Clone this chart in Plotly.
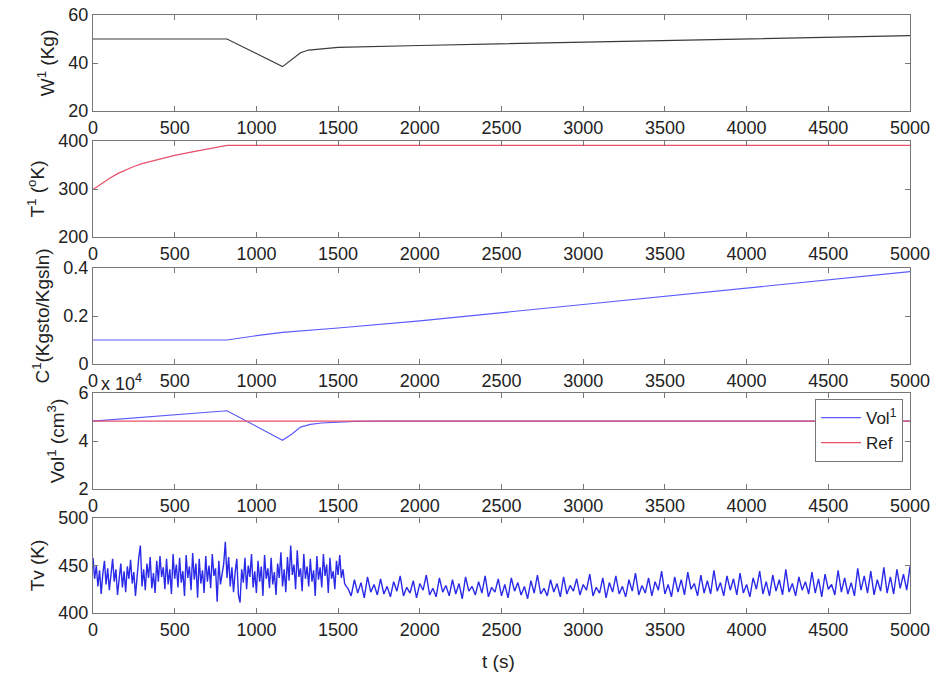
import numpy as np
import plotly.graph_objects as go
from plotly.subplots import make_subplots

# ---- data ----
w_t = [0, 820, 1160, 1220, 1270, 1320, 1400, 1500, 2000, 3000, 4000, 5000]
w_val = [50, 50, 38.5, 41.5, 44.3, 45.4, 46.0, 46.5, 47.3, 48.6, 50.0, 51.4]

temp_t = [0, 50, 100, 150, 200, 250, 300, 400, 500, 600, 700, 820, 5000]
temp_val = [299, 311, 322, 332, 340, 347, 353, 362, 370, 377, 384, 391, 391]

c_t = [0, 820, 1000, 1160, 1500, 2000, 3000, 4000, 5000]
c_val = [0.1, 0.1, 0.118, 0.132, 0.15, 0.18, 0.248, 0.316, 0.385]

vol_t = [0, 820, 1160, 1220, 1270, 1330, 1400, 1500, 1600, 1800, 5000]
vol_val = [48300, 52600, 40300, 43000, 45800, 46900, 47500, 48000, 48200, 48300, 48300]
ref_t = [0, 5000]
ref_val = [48300, 48300]

# valve temperature, 10 s samples up to 1550 s
tv_early = [
    458, 436, 450, 428, 445, 420, 441, 455, 430, 447,
    424, 438, 457, 433, 446, 419, 440, 452, 427, 444,
    422, 449, 436, 456, 431, 443, 418, 439, 458, 471,
    428, 446, 424, 452, 437, 459, 426, 442, 421, 455,
    433, 460, 438, 448, 425, 457, 430, 446, 420, 462,
    436, 451, 427, 458, 432, 444, 418, 461, 437, 449,
    424, 463, 435, 452, 416, 457, 431, 445, 421, 460,
    433, 450, 426, 462, 439, 447, 412, 455, 430, 441,
    452, 475, 437, 459, 428, 448, 422, 443, 457, 419,
    411, 446, 432, 458, 425, 450, 438, 462, 427, 444,
    421, 455, 433, 449, 418, 461, 436, 447, 426, 458,
    430, 443, 419, 452, 437, 464, 428, 446, 422, 459,
    434, 471, 440, 451, 425, 466, 438, 447, 423, 462,
    436, 449, 428, 457, 433, 445, 418, 460, 435, 448,
    427, 462, 439, 451, 421, 458, 436, 444, 425, 455,
    440, 461, 437, 446, 431, 428,
]
# valve temperature, 20 s samples from 1560 s to 5000 s
tv_late = [
    426, 418, 435, 421, 432, 416, 438, 422, 430, 419,
    436, 420, 428, 417, 433, 423, 439, 418, 427, 421,
    434, 416, 431, 424, 440, 419, 426, 417, 437, 422,
    429, 418, 435, 420, 431, 415, 438, 423, 428, 419,
    433, 421, 439, 417, 427, 422, 436, 418, 430, 416,
    437, 423, 432, 419, 428, 415, 434, 421, 440, 420,
    426, 418, 435, 422, 431, 417, 438, 420, 429, 423,
    436, 419, 430, 424, 441, 418, 427, 421, 437, 416,
    432, 422, 439, 420, 428, 417, 435, 423, 442, 419,
    429, 421, 437, 418, 433, 424, 444, 420, 430, 417,
    438, 422, 435, 419, 443, 425, 431, 418, 440, 421,
    434, 420, 445, 423, 432, 418, 439, 424, 436, 419,
    442, 421, 430, 417, 437, 425, 444, 420, 433, 418,
    440, 423, 435, 419, 446, 422, 431, 418, 438, 424,
    433, 420, 443, 421, 436, 417, 441, 425, 430, 419,
    445, 422, 437, 420, 432, 418, 447, 424, 439, 421,
    444, 419, 435, 423, 448, 421, 438, 420, 446, 426,
    441, 424, 449,
]
tv_t = list(np.arange(len(tv_early)) * 10) + list(np.linspace(1560, 5000, len(tv_late)))
tv_val = tv_early + tv_late

x_ticks = list(range(0, 5001, 500))

# ---- figure ----
fig = make_subplots(rows=5, cols=1)

fig.add_trace(go.Scatter(x=w_t, y=w_val, mode="lines",
                         line=dict(color="#3a3a3a", width=1.2), showlegend=False), row=1, col=1)
fig.add_trace(go.Scatter(x=temp_t, y=temp_val, mode="lines",
                         line=dict(color="#e8506a", width=1.2), showlegend=False), row=2, col=1)
fig.add_trace(go.Scatter(x=c_t, y=c_val, mode="lines",
                         line=dict(color="#5a5aff", width=1.2), showlegend=False), row=3, col=1)
fig.add_trace(go.Scatter(x=vol_t, y=vol_val, mode="lines", name="Vol<sup>1</sup>",
                         line=dict(color="#5a5aff", width=1.2)), row=4, col=1)
fig.add_trace(go.Scatter(x=ref_t, y=ref_val, mode="lines", name="Ref",
                         line=dict(color="#e8506a", width=1.2)), row=4, col=1)
fig.add_trace(go.Scatter(x=tv_t, y=tv_val, mode="lines",
                         line=dict(color="#2a2ae8", width=1.4), showlegend=False), row=5, col=1)

H = 674.0
W = 935.0
x_dom = [93 / W, 910 / W]
panels = [(15, 111), (141, 237), (268, 364), (393, 489), (518, 613)]
y_ranges = [[20, 60], [200, 400], [0, 0.4], [20000, 60000], [400, 500]]
y_tickvals = [[20, 40, 60], [200, 300, 400], [0, 0.2, 0.4], [20000, 40000, 60000], [400, 450, 500]]
y_ticktext = [["20", "40", "60"], ["200", "300", "400"], ["0", "0.2", "0.4"], ["2", "4", "6"],
              ["400", "450", "500"]]
y_titles = ["W<sup>1</sup> (Kg)", "T<sup>1</sup> (<sup>o</sup>K)", "C<sup>1</sup>(Kgsto/Kgsln)",
            "Vol<sup>1</sup> (cm<sup>3</sup>)", "Tv (K)"]

tick_font = dict(family="Liberation Sans, Arial, sans-serif", size=18, color="#222")
title_font = dict(family="Liberation Sans, Arial, sans-serif", size=19, color="#222")
legend_font = dict(family="Liberation Sans, Arial, sans-serif", size=17, color="#222")
for i, (top, bot) in enumerate(panels):
    n = "" if i == 0 else str(i + 1)
    fig.layout["xaxis" + n].update(
        domain=x_dom, range=[0, 5000], tickvals=x_ticks, ticks="inside", ticklen=5,
        tickcolor="#777", showline=True, linecolor="#777", linewidth=1, mirror="ticks",
        showgrid=False, zeroline=False, tickfont=tick_font, automargin=False,
    )
    fig.layout["yaxis" + n].update(
        domain=[1 - bot / H, 1 - top / H], range=y_ranges[i], tickvals=y_tickvals[i],
        ticktext=y_ticktext[i], ticks="inside", ticklen=5, tickcolor="#777",
        showline=True, linecolor="#777", linewidth=1, mirror="ticks",
        showgrid=False, zeroline=False, tickfont=tick_font, automargin=False,
        title=dict(text=y_titles[i], font=title_font, standoff=8),
    )

fig.add_annotation(text="x 10<sup>4</sup>", xref="paper", yref="paper",
                   x=99 / W, y=1 - 382 / H, xanchor="left", yanchor="middle",
                   showarrow=False, font=tick_font)
fig.add_annotation(text="t (s)", xref="paper", yref="paper",
                   x=498 / W, y=1 - 661 / H, xanchor="center", yanchor="middle",
                   showarrow=False, font=title_font)

fig.update_layout(
    width=935, height=674, margin=dict(l=0, r=0, t=0, b=0),
    paper_bgcolor="white", plot_bgcolor="white",
    font=tick_font,
    legend=dict(x=903 / W, y=1 - 399 / H, xanchor="right", yanchor="top",
                bgcolor="white", bordercolor="#777", borderwidth=1,
                font=legend_font, tracegroupgap=0, itemwidth=40),
)

fig.write_html("out.html")
